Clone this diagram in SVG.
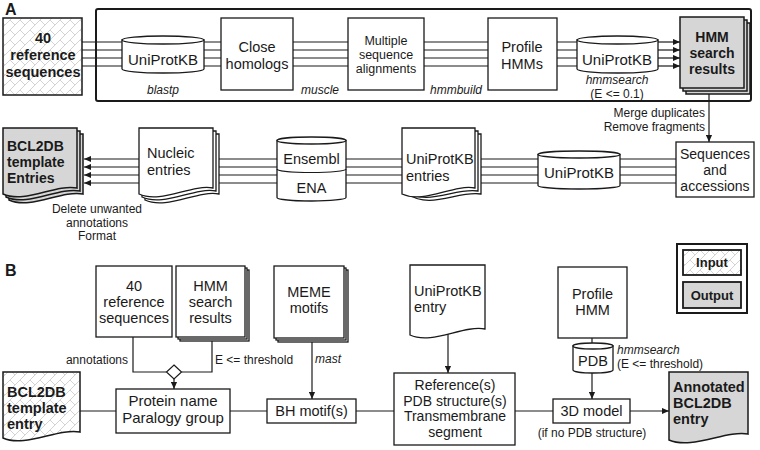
<svg xmlns="http://www.w3.org/2000/svg" width="760" height="450" viewBox="0 0 760 450">
<defs>
<pattern id="hatch" width="10" height="10" patternUnits="userSpaceOnUse">
<rect width="10" height="10" fill="#fff"/>
<path d="M0,10 L10,0 M-1,1 L1,-1 M9,11 L11,9 M0,0 L5,5" stroke="#c8c8c8" stroke-width="0.8" fill="none"/>
</pattern>
<marker id="ah" viewBox="0 0 8 8" refX="8" refY="4" markerWidth="7" markerHeight="7" orient="auto" markerUnits="userSpaceOnUse">
<path d="M0,0.5 L8,4 L0,7.5 Z" fill="#1a1a1a"/>
</marker>
</defs>
<style>
.box{fill:#fff;stroke:#1a1a1a;stroke-width:1.3}
.out{fill:#d6d6d6;stroke:#1a1a1a;stroke-width:1.5}
.in{fill:url(#hatch);stroke:#1a1a1a;stroke-width:1.5}
.ln{fill:none;stroke:#1a1a1a;stroke-width:1.2}
.ar{fill:none;stroke:#1a1a1a;stroke-width:1.2;marker-end:url(#ah)}
text{font-family:"Liberation Sans",Arial,sans-serif;fill:#1a1a1a}
.t{font-size:14.5px;text-anchor:middle}
.tl{font-size:14.5px}
.tb{font-size:14.5px;font-weight:bold}
.ti{font-size:12px;font-style:italic}
.ts{font-size:12px}
.c{text-anchor:middle}
.e{text-anchor:end}
</style>

<!-- Panel labels -->
<text x="5" y="15" style="font-size:16px;font-weight:bold">A</text>
<text x="5" y="276" style="font-size:16px;font-weight:bold">B</text>

<!-- Frame A -->
<rect x="96" y="9" width="655" height="92" rx="2" fill="none" stroke="#1a1a1a" stroke-width="2"/>

<g id="connectors">
<!-- A top row -->
<path class="ln" d="M82,42H122M82,50H122M82,58H122M82,66H122"/>
<path class="ln" d="M204,42H221M204,50H221M204,58H221M204,66H221"/>
<path class="ln" d="M293,42H348M293,50H348M293,58H348M293,66H348"/>
<path class="ln" d="M424,42H488M424,50H488M424,58H488M424,66H488"/>
<path class="ln" d="M557,42H577M557,50H577M557,58H577M557,66H577"/>
<path class="ar" d="M658,42H680"/>
<path class="ar" d="M658,50H680"/>
<path class="ar" d="M658,58H680"/>
<path class="ar" d="M658,66H680"/>
<path class="ar" d="M709,94V142"/>
<!-- A middle row -->
<path class="ln" d="M676,159H620M676,167H620M676,175H620M676,183H620"/>
<path class="ln" d="M538,159H481M538,167H481M538,175H481M538,183H481"/>
<path class="ln" d="M402,159H346M402,167H346M402,175H346M402,183H346"/>
<path class="ln" d="M277,159H219M277,167H219M277,175H219M277,183H219"/>
<path class="ar" d="M139,159H84"/>
<path class="ar" d="M139,167H84"/>
<path class="ar" d="M139,175H84"/>
<path class="ar" d="M139,183H84"/>
<!-- B -->
<path class="ln" d="M133,337V372H166.5"/>
<path class="ln" d="M212,341V372H181.5"/>
<path d="M174,365L181.5,372L174,379L166.5,372Z" fill="#fff" stroke="#1a1a1a" stroke-width="1.2"/>
<path class="ar" d="M174,379V389"/>
<path class="ln" d="M80,411H116M230,411H267M356,411H394M515,411H553"/>
<path class="ar" d="M630,411H669"/>
<path class="ar" d="M312,342V399"/>
<path class="ar" d="M448,334V373"/>
<path class="ln" d="M592,338V343"/>
<path class="ar" d="M592,373V399"/>
</g>

<!-- A nodes -->
<g id="a-input">
<rect class="in" x="3" y="18" width="79" height="77"/>
<text class="tb c" x="43" y="43">40</text>
<text class="tb c" x="43" y="60">reference</text>
<text class="tb c" x="43" y="77">sequences</text>
</g>

<g id="a-uniprot1">
<path class="box" d="M122,40V69A41,4 0 0 0 204,69V40Z"/>
<ellipse class="box" cx="163" cy="40" rx="41" ry="4"/>
<text class="t" style="font-size:15px" x="163" y="65">UniProtKB</text>
</g>
<text class="ti c" x="163" y="94">blastp</text>

<g id="a-close">
<rect class="box" x="221" y="18" width="72" height="72"/>
<text class="t" x="257" y="52">Close</text>
<text class="t" x="257" y="69">homologs</text>
</g>
<text class="ti c" x="320" y="94">muscle</text>

<g id="a-msa">
<rect class="box" x="348" y="18" width="76" height="72"/>
<text class="c" style="font-size:12.5px" x="386" y="45">Multiple</text>
<text class="c" style="font-size:12.5px" x="386" y="59">sequence</text>
<text class="c" style="font-size:12.5px" x="386" y="73">alignments</text>
</g>
<text class="ti c" x="456" y="94">hmmbuild</text>

<g id="a-profile">
<rect class="box" x="488" y="18" width="69" height="72"/>
<text class="t" x="522" y="52">Profile</text>
<text class="t" x="522" y="69">HMMs</text>
</g>

<g id="a-uniprot2">
<path class="box" d="M577,40V69A40.5,4 0 0 0 658,69V40Z"/>
<ellipse class="box" cx="617.5" cy="40" rx="40.5" ry="4"/>
<text class="t" style="font-size:15px" x="617" y="65">UniProtKB</text>
</g>
<text class="ti c" x="617" y="84">hmmsearch</text>
<text class="ts c" x="617" y="97.5">(E &lt;= 0.1)</text>

<g id="a-hmmresults">
<rect class="out" x="686" y="23" width="64" height="71"/>
<rect class="out" x="683" y="20" width="64" height="71"/>
<rect class="out" x="680" y="17" width="64" height="71"/>
<text class="c" style="font-size:14px;font-weight:bold" x="712" y="42">HMM</text>
<text class="c" style="font-size:14px;font-weight:bold" x="712" y="58">search</text>
<text class="c" style="font-size:14px;font-weight:bold" x="712" y="74">results</text>
</g>
<text class="ts e" x="705" y="117">Merge duplicates</text>
<text class="ts e" x="705" y="131">Remove fragments</text>

<g id="a-seqacc">
<rect class="box" x="676" y="142" width="78" height="55"/>
<text class="c" style="font-size:14px" x="715" y="159">Sequences</text>
<text class="c" style="font-size:14px" x="715" y="175">and</text>
<text class="c" style="font-size:14px" x="715" y="191">accessions</text>
</g>

<g id="a-uniprot3">
<path class="box" d="M538,154.5V185.5A41,3.5 0 0 0 620,185.5V154.5Z"/>
<ellipse class="box" cx="579" cy="154.5" rx="41" ry="3.5"/>
<text class="t" style="font-size:15px" x="579" y="178">UniProtKB</text>
</g>

<g id="a-uniprotentries">
<path class="box" d="M408,134H481V194C459,190 430,210 408,194Z"/>
<path class="box" d="M405,131H478V191C456,187 427,207 405,191Z"/>
<path class="box" d="M402,128H475V188C453,184 424,204 402,194Z"/>
<text class="tl" x="406" y="164">UniProtKB</text>
<text class="tl" x="406" y="181">entries</text>
</g>

<g id="a-ensembl">
<path class="box" d="M277,140.5V197.5A34.5,3.5 0 0 0 346,197.5V140.5Z"/>
<ellipse class="box" cx="311.5" cy="140.5" rx="34.5" ry="3.5"/>
<path class="ln" d="M277,169A34.5,3.5 0 0 0 346,169"/>
<text class="t" x="311.5" y="164">Ensembl</text>
<text class="t" x="311.5" y="193">ENA</text>
</g>

<g id="a-nucleic">
<path class="box" d="M145,134H219V194C197,190 167,210 145,200Z"/>
<path class="box" d="M142,131H216V191C194,187 164,207 142,197Z"/>
<path class="box" d="M139,128H213V188C191,184 161,204 139,194Z"/>
<text class="tl" x="147" y="158">Nucleic</text>
<text class="tl" x="147" y="175">entries</text>
</g>

<g id="a-bcl2db">
<path class="out" d="M9,134H83V194C61,190 31,210 9,200Z"/>
<path class="out" d="M6,131H80V191C58,187 28,207 6,197Z"/>
<path class="out" d="M3,128H77V188C55,184 25,204 3,194Z"/>
<text style="font-size:14px;font-weight:bold" x="7" y="151">BCL2DB</text>
<text style="font-size:14px;font-weight:bold" x="7" y="167">template</text>
<text style="font-size:14px;font-weight:bold" x="7" y="183">Entries</text>
</g>
<text class="ts c" x="97" y="213">Delete unwanted</text>
<text class="ts c" x="97" y="226.5">annotations</text>
<text class="ts c" x="97" y="240">Format</text>

<!-- B nodes -->
<g id="b-refseq">
<rect class="box" x="96" y="266" width="76" height="71"/>
<text class="t" x="134" y="291">40</text>
<text class="t" x="134" y="307">reference</text>
<text class="t" x="134" y="323">sequences</text>
</g>

<g id="b-hmmresults">
<rect class="box" x="180" y="270" width="69" height="71"/>
<rect class="box" x="178" y="268" width="69" height="71"/>
<rect class="box" x="176" y="266" width="69" height="71"/>
<text class="t" x="210.5" y="291">HMM</text>
<text class="t" x="210.5" y="307">search</text>
<text class="t" x="210.5" y="323">results</text>
</g>
<text class="ts e" x="128" y="364">annotations</text>
<text class="ts" x="215" y="364">E &lt;= threshold</text>

<g id="b-protein">
<rect class="box" x="116" y="389" width="114" height="44"/>
<text class="t" style="font-size:15px" x="173" y="406">Protein name</text>
<text class="t" style="font-size:15px" x="173" y="423">Paralogy group</text>
</g>

<g id="b-bcl2db">
<path class="in" d="M3,372H80V432C58,428 25,448 3,438Z"/>
<text class="tb" x="7" y="397">BCL2DB</text>
<text class="tb" x="7" y="413">template</text>
<text class="tb" x="7" y="429">entry</text>
</g>

<g id="b-meme">
<rect class="box" x="278" y="270" width="70" height="72"/>
<rect class="box" x="276" y="268" width="70" height="72"/>
<rect class="box" x="274" y="266" width="70" height="72"/>
<text class="t" x="309" y="297">MEME</text>
<text class="t" x="309" y="313">motifs</text>
</g>
<text class="ti" x="315" y="363">mast</text>

<g id="b-bh">
<rect class="box" x="267" y="399" width="89" height="24"/>
<text class="t" x="311.5" y="416">BH motif(s)</text>
</g>

<g id="b-uniprotentry">
<path class="box" d="M410,265H485V329C463,325 432,345 410,335Z"/>
<text class="tl" x="414" y="296">UniProtKB</text>
<text class="tl" x="414" y="312">entry</text>
</g>

<g id="b-reference">
<rect class="box" x="394" y="373" width="121" height="72"/>
<text class="t" style="font-size:14px" x="455" y="390">Reference(s)</text>
<text class="t" style="font-size:14px" x="455" y="405.5">PDB structure(s)</text>
<text class="t" style="font-size:14px" x="455" y="421">Transmembrane</text>
<text class="t" style="font-size:14px" x="455" y="436.5">segment</text>
</g>

<g id="b-profile">
<rect class="box" x="558" y="267" width="69" height="71"/>
<text class="t" x="592.5" y="299">Profile</text>
<text class="t" x="592.5" y="315">HMM</text>
</g>

<g id="b-pdb">
<path class="box" d="M573,346V370A20,3 0 0 0 613,370V346Z"/>
<ellipse class="box" cx="593" cy="346" rx="20" ry="3"/>
<text class="t" x="593" y="366">PDB</text>
</g>
<text class="ti" x="617" y="354">hmmsearch</text>
<text class="ts" x="617" y="368">(E &lt;= threshold)</text>

<g id="b-3dmodel">
<rect class="box" x="553" y="399" width="77" height="24"/>
<text class="t" x="591.5" y="416">3D model</text>
</g>
<text class="ts c" x="592" y="437">(if no PDB structure)</text>

<g id="b-annotated">
<path class="out" d="M669,372H748V434C726,430 692,450 669,440Z"/>
<text class="tb" x="673" y="392">Annotated</text>
<text class="tb" x="673" y="408">BCL2DB</text>
<text class="tb" x="673" y="424">entry</text>
</g>

<g id="legend">
<rect x="677" y="244" width="70" height="69" fill="#fff" stroke="#1a1a1a" stroke-width="2"/>
<rect class="in" x="683" y="250" width="58" height="25" style="stroke-width:1.8"/>
<rect class="out" x="683" y="282" width="58" height="26" style="stroke-width:1.8"/>
<text class="c" style="font-size:13px;font-weight:bold" x="712" y="267">Input</text>
<text class="c" style="font-size:13px;font-weight:bold" x="712" y="300">Output</text>
</g>
</svg>
